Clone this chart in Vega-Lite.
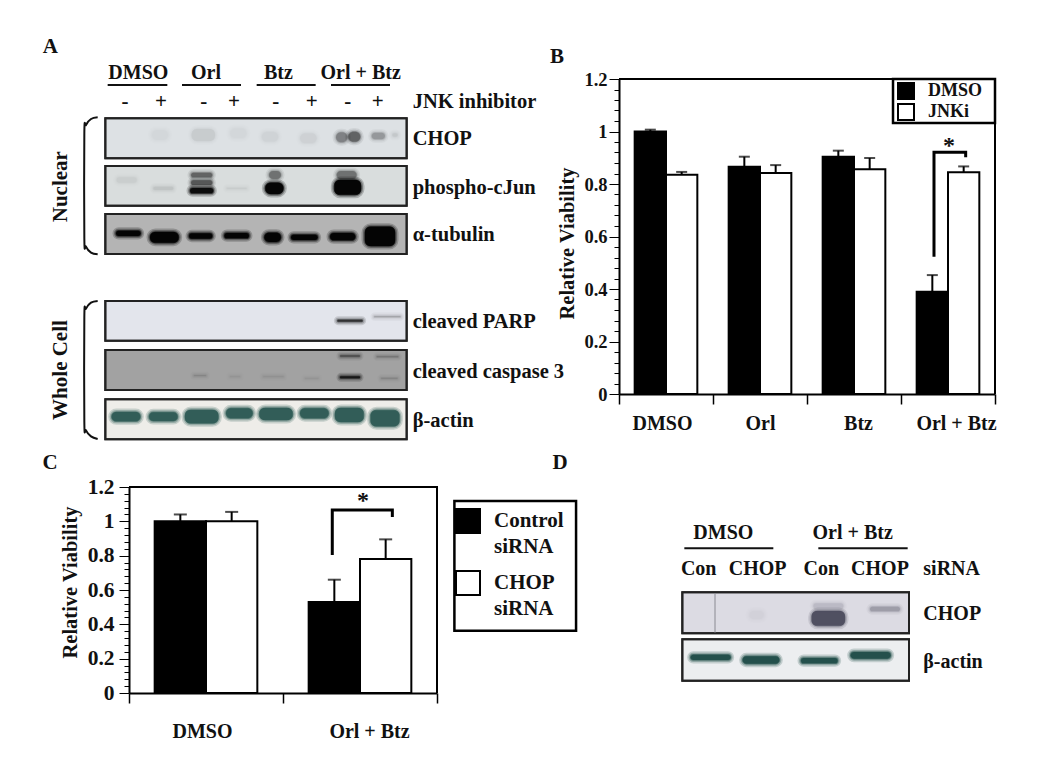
{
"$schema":"https://vega.github.io/schema/vega-lite/v6.json",
"width":1050,"height":771,"padding":0,"autosize":{"type":"none"},"background":"white",
"config":{"view":{"stroke":null},"text":{"font":"Liberation Serif","fontWeight":"bold","fill":"#111"},"style":{"guide-label":{"lineHeight":26}}},
"datasets":{
"b":[
{"group":"DMSO","bar":"DMSO / DMSO","series":"DMSO","value":1.0,"upper":1.007},
{"group":"DMSO","bar":"DMSO / JNKi","series":"JNKi","value":0.835,"upper":0.846},
{"group":"Orl","bar":"Orl / DMSO","series":"DMSO","value":0.866,"upper":0.904},
{"group":"Orl","bar":"Orl / JNKi","series":"JNKi","value":0.842,"upper":0.872},
{"group":"Btz","bar":"Btz / DMSO","series":"DMSO","value":0.904,"upper":0.927},
{"group":"Btz","bar":"Btz / JNKi","series":"JNKi","value":0.856,"upper":0.899},
{"group":"Orl + Btz","bar":"Orl + Btz / DMSO","series":"DMSO","value":0.39,"upper":0.453},
{"group":"Orl + Btz","bar":"Orl + Btz / JNKi","series":"JNKi","value":0.845,"upper":0.867}],
"c":[
{"group":"DMSO","bar":"DMSO / Control","series":"Control siRNA","value":1.0,"upper":1.04},
{"group":"DMSO","bar":"DMSO / CHOP","series":"CHOP siRNA","value":1.0,"upper":1.055},
{"group":"Orl + Btz","bar":"Orl + Btz / Control","series":"Control siRNA","value":0.53,"upper":0.66},
{"group":"Orl + Btz","bar":"Orl + Btz / CHOP","series":"CHOP siRNA","value":0.78,"upper":0.895}],
"frameA":[
{"blot":"CHOP","a":226,"b":1130,"c":265,"d":385},
{"blot":"phospho-cJun","a":226,"b":1130,"c":408,"d":527},
{"blot":"alpha-tubulin","a":226,"b":1130,"c":552,"d":672},
{"blot":"cleaved PARP","a":226,"b":1130,"c":813,"d":932},
{"blot":"cleaved caspase 3","a":226,"b":1130,"c":960,"d":1080},
{"blot":"beta-actin","a":226,"b":1130,"c":1108,"d":1228}],
"bandA":[
{"tone":"ink","a":365,"b":415,"c":300,"d":330,"v":0.015},
{"tone":"ink","a":485,"b":555,"c":297,"d":333,"v":0.04},
{"tone":"ink","a":600,"b":650,"c":295,"d":325,"v":0.015},
{"tone":"ink","a":695,"b":745,"c":305,"d":335,"v":0.02},
{"tone":"ink","a":810,"b":860,"c":310,"d":340,"v":0.025},
{"tone":"ink","a":918,"b":952,"c":307,"d":337,"v":0.25},
{"tone":"ink","a":955,"b":991,"c":305,"d":335,"v":0.36},
{"tone":"ink","a":1025,"b":1065,"c":308,"d":328,"v":0.18},
{"tone":"ink","a":1087,"b":1103,"c":310,"d":320,"v":0.05},
{"tone":"ink","a":260,"b":320,"c":442,"d":458,"v":0.025},
{"tone":"ink","a":370,"b":430,"c":470,"d":480,"v":0.05},
{"tone":"ink","a":483,"b":547,"c":428,"d":442,"v":0.35},
{"tone":"ink","a":483,"b":547,"c":451,"d":465,"v":0.4},
{"tone":"ink","a":480,"b":550,"c":474,"d":490,"v":0.9},
{"tone":"ink","a":590,"b":650,"c":473,"d":477,"v":0.03},
{"tone":"ink","a":717,"b":753,"c":423,"d":447,"v":0.3},
{"tone":"ink","a":706,"b":760,"c":458,"d":492,"v":1},
{"tone":"ink","a":920,"b":980,"c":423,"d":447,"v":0.3},
{"tone":"ink","a":913,"b":993,"c":450,"d":494,"v":1},
{"tone":"ink","a":258,"b":332,"c":602,"d":618,"v":1},
{"tone":"ink","a":360,"b":446,"c":606,"d":638,"v":1},
{"tone":"ink","a":477,"b":547,"c":610,"d":626,"v":1},
{"tone":"ink","a":583,"b":657,"c":609,"d":625,"v":1},
{"tone":"ink","a":703,"b":753,"c":608,"d":636,"v":1},
{"tone":"ink","a":783,"b":863,"c":614,"d":630,"v":1},
{"tone":"ink","a":900,"b":976,"c":609,"d":631,"v":1},
{"tone":"ink","a":1005,"b":1095,"c":590,"d":648,"v":1},
{"tone":"ink","a":922,"b":998,"c":869,"d":875,"v":0.6},
{"tone":"ink","a":1032,"b":1112,"c":858,"d":862,"v":0.15},
{"tone":"ink","a":930,"b":990,"c":975,"d":981,"v":0.3},
{"tone":"ink","a":1040,"b":1105,"c":978,"d":982,"v":0.14},
{"tone":"ink","a":930,"b":990,"c":1039,"d":1045,"v":0.7},
{"tone":"ink","a":1053,"b":1103,"c":1043,"d":1047,"v":0.09},
{"tone":"ink","a":492,"b":528,"c":1036,"d":1038,"v":0.1},
{"tone":"ink","a":600,"b":630,"c":1039,"d":1041,"v":0.04},
{"tone":"ink","a":700,"b":760,"c":1039,"d":1041,"v":0.05},
{"tone":"ink","a":825,"b":865,"c":1044,"d":1046,"v":0.04},
{"tone":"teal","a":245,"b":331,"c":1146,"d":1174,"v":1},
{"tone":"teal","a":357,"b":443,"c":1147,"d":1173,"v":1},
{"tone":"teal","a":465,"b":565,"c":1140,"d":1180,"v":1},
{"tone":"teal","a":588,"b":668,"c":1135,"d":1165,"v":1},
{"tone":"teal","a":688,"b":788,"c":1134,"d":1170,"v":1},
{"tone":"teal","a":810,"b":896,"c":1135,"d":1165,"v":1},
{"tone":"teal","a":915,"b":1001,"c":1134,"d":1176,"v":1},
{"tone":"teal","a":1022,"b":1108,"c":1141,"d":1189,"v":1}],
"frameD":[
{"blot":"CHOP","a":127,"b":807,"c":427,"d":550},
{"blot":"beta-actin","a":127,"b":807,"c":568,"d":692}],
"bandD":[
{"tone":"ink","a":515,"b":615,"c":483,"d":527,"v":0.5},
{"tone":"ink","a":520,"b":610,"c":460,"d":476,"v":0.08},
{"tone":"ink","a":690,"b":780,"c":470,"d":484,"v":0.17},
{"tone":"ink","a":328,"b":372,"c":482,"d":508,"v":0.012},
{"tone":"teal","a":152,"b":272,"c":614,"d":630,"v":1},
{"tone":"teal","a":308,"b":418,"c":619,"d":641,"v":1},
{"tone":"teal","a":483,"b":593,"c":624,"d":640,"v":1},
{"tone":"teal","a":632,"b":752,"c":606,"d":626,"v":1}]
},
"resolve":{"scale":{"x":"independent","y":"independent","color":"independent","stroke":"independent","opacity":"independent"},"axis":{"x":"independent","y":"independent"},"legend":{"color":"independent"}},
"layer":[
{"data":{"name":"frameA"},
 "mark":{"type":"rect","stroke":"#222","strokeWidth":2},
 "encoding":{"x":{"field":"a","type":"quantitative","scale":{"domain":[0,1560],"range":[30,550]},"axis":null},"x2":{"field":"b"},
 "y":{"field":"c","type":"quantitative","scale":{"domain":[0,1260],"range":[30,450]},"axis":null},"y2":{"field":"d"},
 "color":{"field":"blot","type":"nominal","legend":null,"scale":{"domain":["CHOP","phospho-cJun","alpha-tubulin","cleaved PARP","cleaved caspase 3","beta-actin"],"range":["#dde1e4","#d9dddd","#b4b4b4","#e3e5ec","#a2a2a2","#eeede9"]}}}},
{"data":{"name":"bandA"},
 "resolve":{"scale":{"opacity":"independent"}},
 "encoding":{"x":{"field":"a","type":"quantitative","scale":{"domain":[0,1560],"range":[30,550]},"axis":null},"x2":{"field":"b"},
 "y":{"field":"c","type":"quantitative","scale":{"domain":[0,1260],"range":[30,450]},"axis":null},"y2":{"field":"d"},
 "color":{"field":"tone","type":"nominal","legend":null,"scale":{"domain":["ink","teal"],"range":["#000000","#2d5a54"]}},
 "stroke":{"field":"tone","type":"nominal","legend":null,"scale":{"domain":["ink","teal"],"range":["#000000","#2d5a54"]}}},
 "layer":[
 {"mark":{"type":"rect","strokeWidth":7,"cornerRadius":6,"strokeJoin":"round"},"encoding":{"opacity":{"field":"v","type":"quantitative","legend":null,"scale":{"domain":[0,1],"range":[0,0.2]}}}},
 {"mark":{"type":"rect","strokeWidth":4,"cornerRadius":6,"strokeJoin":"round"},"encoding":{"opacity":{"field":"v","type":"quantitative","legend":null,"scale":{"domain":[0,1],"range":[0,0.3]}}}},
 {"mark":{"type":"rect","strokeWidth":1.5,"cornerRadius":6,"strokeJoin":"round"},"encoding":{"opacity":{"field":"v","type":"quantitative","legend":null,"scale":{"domain":[0,1],"range":[0,0.55]}}}},
 {"mark":{"type":"rect","strokeWidth":0,"cornerRadius":5},"encoding":{"opacity":{"field":"v","type":"quantitative","legend":null,"scale":{"domain":[0,1],"range":[0,0.9]}}}}
 ]},
{"data":{"name":"frameA"},
 "mark":{"type":"rect","fillOpacity":0,"stroke":"#222","strokeWidth":2},
 "encoding":{"x":{"field":"a","type":"quantitative","scale":{"domain":[0,1560],"range":[30,550]},"axis":null},"x2":{"field":"b"},
 "y":{"field":"c","type":"quantitative","scale":{"domain":[0,1260],"range":[30,450]},"axis":null},"y2":{"field":"d"}}},
{"data":{"values":[
 {"a":233,"b":412,"c":165},{"a":456,"b":633,"c":165},{"a":680,"b":857,"c":165},{"a":903,"b":1080,"c":165}]},
 "mark":{"type":"rule","color":"#111","strokeWidth":2},
 "encoding":{"x":{"field":"a","type":"quantitative","scale":{"domain":[0,1560],"range":[30,550]},"axis":null},"x2":{"field":"b"},
 "y":{"field":"c","type":"quantitative","scale":{"domain":[0,1260],"range":[30,450]},"axis":null}}},
{"data":{"values":[
 {"brace":"Nuclear","o":1,"a":203,"c":262},{"brace":"Nuclear","o":2,"a":183,"c":267},{"brace":"Nuclear","o":3,"a":168,"c":285},{"brace":"Nuclear","o":4,"a":163,"c":310},{"brace":"Nuclear","o":5,"a":163,"c":625},{"brace":"Nuclear","o":6,"a":168,"c":650},{"brace":"Nuclear","o":7,"a":183,"c":668},{"brace":"Nuclear","o":8,"a":203,"c":673},
 {"brace":"Whole Cell","o":1,"a":203,"c":813},{"brace":"Whole Cell","o":2,"a":183,"c":818},{"brace":"Whole Cell","o":3,"a":168,"c":836},{"brace":"Whole Cell","o":4,"a":163,"c":861},{"brace":"Whole Cell","o":5,"a":163,"c":1176},{"brace":"Whole Cell","o":6,"a":168,"c":1201},{"brace":"Whole Cell","o":7,"a":183,"c":1219},{"brace":"Whole Cell","o":8,"a":203,"c":1227}]},
 "mark":{"type":"line","color":"#111","strokeWidth":2,"interpolate":"cardinal"},
 "encoding":{"x":{"field":"a","type":"quantitative","scale":{"domain":[0,1560],"range":[30,550]},"axis":null},
 "y":{"field":"c","type":"quantitative","scale":{"domain":[0,1260],"range":[30,450]},"axis":null},
 "detail":{"field":"brace"},"order":{"field":"o","type":"quantitative"}}},
{"data":{"values":[
 {"t":"A","a":61,"c":52},{"t":"B","a":1581,"c":81},{"t":"C","a":60,"c":1299},{"t":"D","a":1590,"c":1299}]},
 "mark":{"type":"text","align":"center","baseline":"middle","fontSize":21},
 "encoding":{"x":{"field":"a","type":"quantitative","scale":{"domain":[0,1560],"range":[30,550]},"axis":null},
 "y":{"field":"c","type":"quantitative","scale":{"domain":[0,1260],"range":[30,450]},"axis":null},
 "text":{"field":"t"}}},
{"data":{"values":[
 {"t":"DMSO","a":325,"c":130},{"t":"Orl","a":528,"c":130},{"t":"Btz","a":745,"c":130},{"t":"Orl + Btz","a":992,"c":130}]},
 "mark":{"type":"text","align":"center","baseline":"middle","fontSize":20},
 "encoding":{"x":{"field":"a","type":"quantitative","scale":{"domain":[0,1560],"range":[30,550]},"axis":null},
 "y":{"field":"c","type":"quantitative","scale":{"domain":[0,1260],"range":[30,450]},"axis":null},
 "text":{"field":"t"}}},
{"data":{"values":[
 {"t":"-","a":285,"c":215},{"t":"+","a":393,"c":215},{"t":"-","a":521,"c":215},{"t":"+","a":612,"c":215},{"t":"-","a":737,"c":215},{"t":"+","a":845,"c":215},{"t":"-","a":953,"c":215},{"t":"+","a":1043,"c":215}]},
 "mark":{"type":"text","align":"center","baseline":"middle","fontSize":21},
 "encoding":{"x":{"field":"a","type":"quantitative","scale":{"domain":[0,1560],"range":[30,550]},"axis":null},
 "y":{"field":"c","type":"quantitative","scale":{"domain":[0,1260],"range":[30,450]},"axis":null},
 "text":{"field":"t"}}},
{"data":{"values":[
 {"t":"JNK inhibitor","c":215},{"t":"CHOP","c":327},{"t":"phospho-cJun","c":473},{"t":"α-tubulin","c":615},{"t":"cleaved PARP","c":877},{"t":"cleaved caspase 3","c":1025},{"t":"β-actin","c":1173}]},
 "mark":{"type":"text","align":"left","baseline":"middle","fontSize":20.5},
 "encoding":{"x":{"datum":1148,"type":"quantitative","scale":{"domain":[0,1560],"range":[30,550]},"axis":null},
 "y":{"field":"c","type":"quantitative","scale":{"domain":[0,1260],"range":[30,450]},"axis":null},
 "text":{"field":"t"}}},
{"data":{"values":[{"t":"Nuclear","c":470},{"t":"Whole Cell","c":1020}]},
 "mark":{"type":"text","align":"center","baseline":"middle","fontSize":21,"angle":270},
 "encoding":{"x":{"datum":92,"type":"quantitative","scale":{"domain":[0,1560],"range":[30,550]},"axis":null},
 "y":{"field":"c","type":"quantitative","scale":{"domain":[0,1260],"range":[30,450]},"axis":null},
 "text":{"field":"t"}}},

{"data":{"name":"b"},
 "mark":{"type":"rule","opacity":0},
 "encoding":{
  "x":{"field":"group","type":"nominal","sort":["DMSO","Orl","Btz","Orl + Btz"],"scale":{"domain":["DMSO","Orl","Btz","Orl + Btz"],"range":[619,995],"paddingInner":0,"paddingOuter":0},
   "axis":{"orient":"bottom","offset":-377,"title":null,"tickBand":"extent","labelAngle":0,"domainColor":"#000","domainWidth":2,"tickColor":"#000","tickWidth":1.5,"tickSize":10,"labelPadding":9,"labelFont":"Liberation Serif","labelFontWeight":"bold","labelFontSize":20,"labelColor":"#111",
   "labelOffset":{"condition":[{"test":"datum.value==='DMSO'","value":-4},{"test":"datum.value==='Btz'","value":4},{"test":"datum.value==='Orl + Btz'","value":8}],"value":0}}}}},
{"data":{"name":"b"},
 "encoding":{
  "x":{"field":"bar","type":"nominal","axis":null,"scale":{"domain":["DMSO / DMSO","DMSO / JNKi","gap 1","Orl / DMSO","Orl / JNKi","gap 2","Btz / DMSO","Btz / JNKi","gap 3","Orl + Btz / DMSO","Orl + Btz / JNKi"],"range":[619,995],"paddingInner":0,"paddingOuter":0.5}},
  "y":{"field":"value","type":"quantitative","scale":{"domain":[0,1.2],"range":[394,79],"nice":false},
   "axis":{"orient":"left","offset":-619,"title":"Relative Viability","values":[0,0.04,0.08,0.12,0.16,0.2,0.24,0.28,0.32,0.36,0.4,0.44,0.48,0.52,0.56,0.6,0.64,0.68,0.72,0.76,0.8,0.84,0.88,0.92,0.96,1,1.04,1.08,1.12,1.16,1.2],
   "labelExpr":"abs(datum.value*5-round(datum.value*5))<0.001 ? format(datum.value,'~g') : ''","labelOverlap":false,"labelFlush":false,"grid":false,
   "tickSize":{"condition":{"test":"abs(datum.value*5-round(datum.value*5))<0.001","value":10},"value":5},
   "domainColor":"#000","domainWidth":2,"tickColor":"#000","tickWidth":1,"labelPadding":2,"labelFont":"Liberation Serif","labelFontWeight":"bold","labelFontSize":18.5,"labelColor":"#111",
   "titleFont":"Liberation Serif","titleFontWeight":"bold","titleFontSize":20.5,"titleColor":"#111","titleX":-42,"titleY":243}}},
 "layer":[
  {"mark":{"type":"rule","color":"#000","strokeWidth":2},"encoding":{"y2":{"field":"upper"}}},
  {"mark":{"type":"tick","color":"#000","size":11,"thickness":2},"encoding":{"y":{"field":"upper","type":"quantitative"}}},
  {"mark":{"type":"bar","stroke":"#000","strokeWidth":2},"encoding":{"color":{"field":"series","type":"nominal","scale":{"domain":["DMSO","JNKi"],"range":["#000000","#ffffff"]},
   "legend":{"orient":"none","legendX":897,"legendY":82,"title":null,"symbolType":"square","symbolSize":256,"symbolStrokeColor":"#000","symbolStrokeWidth":2,"symbolOpacity":1,"labelFont":"Liberation Serif","labelFontWeight":"bold","labelFontSize":18,"labelColor":"#111","labelOffset":13,"rowPadding":-3,"padding":0}}}}
 ]},
{"data":{"values":[{"a":0,"y":1.2,"o":1},{"a":4,"y":1.2,"o":2},{"a":4,"y":0,"o":3}]},
 "mark":{"type":"line","color":"#000","strokeWidth":2},
 "encoding":{"x":{"field":"a","type":"quantitative","scale":{"domain":[0,4],"range":[619,995]},"axis":null},"y":{"field":"y","type":"quantitative","scale":{"domain":[0,1.2],"range":[394,79]},"axis":null},"order":{"field":"o","type":"quantitative"}}},
{"data":{"values":[{"a":3.351,"y":0.523,"o":1},{"a":3.351,"y":0.921,"o":2},{"a":3.688,"y":0.921,"o":3},{"a":3.688,"y":0.902,"o":4}]},
 "mark":{"type":"line","color":"#000","strokeWidth":3},
 "encoding":{"x":{"field":"a","type":"quantitative","scale":{"domain":[0,4],"range":[619,995]},"axis":null},"y":{"field":"y","type":"quantitative","scale":{"domain":[0,1.2],"range":[394,79]},"axis":null},"order":{"field":"o","type":"quantitative"}}},
{"data":{"values":[{"a":2.915,"b":4,"y":1.2,"y2":1.032}]},
 "mark":{"type":"rect","fillOpacity":0,"stroke":"#000","strokeWidth":2.5},
 "encoding":{"x":{"field":"a","type":"quantitative","scale":{"domain":[0,4],"range":[619,995]},"axis":null},"x2":{"field":"b"},"y":{"field":"y","type":"quantitative","scale":{"domain":[0,1.2],"range":[394,79]},"axis":null},"y2":{"field":"y2"}}},
{"data":{"values":[{"t":"*","a":3.511,"y":0.945}]},
 "mark":{"type":"text","align":"center","baseline":"middle","fontSize":24},
 "encoding":{"x":{"field":"a","type":"quantitative","scale":{"domain":[0,4],"range":[619,995]},"axis":null},"y":{"field":"y","type":"quantitative","scale":{"domain":[0,1.2],"range":[394,79]},"axis":null},"text":{"field":"t"}}},

{"data":{"name":"c"},
 "mark":{"type":"rule","opacity":0},
 "encoding":{
  "x":{"field":"group","type":"nominal","sort":["DMSO","Orl + Btz"],"scale":{"domain":["DMSO","Orl + Btz"],"range":[129,437],"paddingInner":0,"paddingOuter":0},
   "axis":{"orient":"bottom","offset":-78,"title":null,"tickBand":"extent","labelAngle":0,"domainColor":"#000","domainWidth":2,"tickColor":"#000","tickWidth":1.5,"tickSize":10,"labelPadding":18,"labelFont":"Liberation Serif","labelFontWeight":"bold","labelFontSize":20,"labelColor":"#111",
   "labelOffset":{"condition":[{"test":"datum.value==='DMSO'","value":-4},{"test":"datum.value==='Orl + Btz'","value":9}],"value":0}}}}},
{"data":{"name":"c"},
 "encoding":{
  "x":{"field":"bar","type":"nominal","axis":null,"scale":{"domain":["DMSO / Control","DMSO / CHOP","gap","Orl + Btz / Control","Orl + Btz / CHOP"],"range":[129,437],"paddingInner":0,"paddingOuter":0.5}},
  "y":{"field":"value","type":"quantitative","scale":{"domain":[0,1.2],"range":[693,487],"nice":false},
   "axis":{"orient":"left","offset":-129,"title":"Relative Viability","values":[0,0.04,0.08,0.12,0.16,0.2,0.24,0.28,0.32,0.36,0.4,0.44,0.48,0.52,0.56,0.6,0.64,0.68,0.72,0.76,0.8,0.84,0.88,0.92,0.96,1,1.04,1.08,1.12,1.16,1.2],
   "labelExpr":"abs(datum.value*5-round(datum.value*5))<0.001 ? format(datum.value,'~g') : ''","labelOverlap":false,"labelFlush":false,"grid":false,
   "tickSize":{"condition":{"test":"abs(datum.value*5-round(datum.value*5))<0.001","value":10},"value":5},
   "domainColor":"#000","domainWidth":2,"tickColor":"#000","tickWidth":1,"labelPadding":5,"labelFont":"Liberation Serif","labelFontWeight":"bold","labelFontSize":21.5,"labelColor":"#111",
   "titleFont":"Liberation Serif","titleFontWeight":"bold","titleFontSize":20.5,"titleColor":"#111","titleX":-49,"titleY":582}}},
 "layer":[
  {"mark":{"type":"rule","color":"#000","strokeWidth":2},"encoding":{"y2":{"field":"upper"}}},
  {"mark":{"type":"tick","color":"#000","size":13,"thickness":2},"encoding":{"y":{"field":"upper","type":"quantitative"}}},
  {"mark":{"type":"bar","stroke":"#000","strokeWidth":2},"encoding":{"color":{"field":"series","type":"nominal","scale":{"domain":["Control siRNA","CHOP siRNA"],"range":["#000000","#ffffff"]},
   "legend":{"orient":"none","legendX":455,"legendY":508,"title":null,"symbolType":"square","symbolSize":576,"symbolStrokeColor":"#000","symbolStrokeWidth":2,"symbolOpacity":1,"labelFont":"Liberation Serif","labelFontWeight":"bold","labelFontSize":21,"labelColor":"#111","labelOffset":13,"rowPadding":10,"padding":0,
   "labelExpr":"datum.value==='Control siRNA' ? ['Control','siRNA'] : ['CHOP','siRNA']"}}}}
 ]},
{"data":{"values":[{"a":0,"y":1.2,"o":1},{"a":2,"y":1.2,"o":2},{"a":2,"y":0,"o":3}]},
 "mark":{"type":"line","color":"#000","strokeWidth":2},
 "encoding":{"x":{"field":"a","type":"quantitative","scale":{"domain":[0,2],"range":[129,437]},"axis":null},"y":{"field":"y","type":"quantitative","scale":{"domain":[0,1.2],"range":[693,487]},"axis":null},"order":{"field":"o","type":"quantitative"}}},
{"data":{"values":[{"a":1.32,"y":0.804,"o":1},{"a":1.32,"y":1.066,"o":2},{"a":1.71,"y":1.066,"o":3},{"a":1.71,"y":1.025,"o":4}]},
 "mark":{"type":"line","color":"#000","strokeWidth":3},
 "encoding":{"x":{"field":"a","type":"quantitative","scale":{"domain":[0,2],"range":[129,437]},"axis":null},"y":{"field":"y","type":"quantitative","scale":{"domain":[0,1.2],"range":[693,487]},"axis":null},"order":{"field":"o","type":"quantitative"}}},
{"data":{"values":[{"a":2.113,"b":2.903,"y":1.118,"y2":0.363}]},
 "mark":{"type":"rect","fillOpacity":0,"stroke":"#000","strokeWidth":2.5},
 "encoding":{"x":{"field":"a","type":"quantitative","scale":{"domain":[0,2],"range":[129,437]},"axis":null},"x2":{"field":"b"},"y":{"field":"y","type":"quantitative","scale":{"domain":[0,1.2],"range":[693,487]},"axis":null},"y2":{"field":"y2"}}},
{"data":{"values":[{"t":"*","a":1.52,"y":1.12}]},
 "mark":{"type":"text","align":"center","baseline":"middle","fontSize":24},
 "encoding":{"x":{"field":"a","type":"quantitative","scale":{"domain":[0,2],"range":[129,437]},"axis":null},"y":{"field":"y","type":"quantitative","scale":{"domain":[0,1.2],"range":[693,487]},"axis":null},"text":{"field":"t"}}},

{"data":{"name":"frameD"},
 "mark":{"type":"rect","stroke":"#222","strokeWidth":2},
 "encoding":{"x":{"field":"a","type":"quantitative","scale":{"domain":[0,1110],"range":[640,1010]},"axis":null},"x2":{"field":"b"},
 "y":{"field":"c","type":"quantitative","scale":{"domain":[0,750],"range":[450,700]},"axis":null},"y2":{"field":"d"},
 "color":{"field":"blot","type":"nominal","legend":null,"scale":{"domain":["CHOP","beta-actin"],"range":["#dcdbe3","#eceef0"]}}}},
{"data":{"name":"bandD"},
 "resolve":{"scale":{"opacity":"independent"}},
 "encoding":{"x":{"field":"a","type":"quantitative","scale":{"domain":[0,1110],"range":[640,1010]},"axis":null},"x2":{"field":"b"},
 "y":{"field":"c","type":"quantitative","scale":{"domain":[0,750],"range":[450,700]},"axis":null},"y2":{"field":"d"},
 "color":{"field":"tone","type":"nominal","legend":null,"scale":{"domain":["ink","teal"],"range":["#15152a","#1f4d48"]}},
 "stroke":{"field":"tone","type":"nominal","legend":null,"scale":{"domain":["ink","teal"],"range":["#15152a","#1f4d48"]}}},
 "layer":[
 {"mark":{"type":"rect","strokeWidth":7,"cornerRadius":6,"strokeJoin":"round"},"encoding":{"opacity":{"field":"v","type":"quantitative","legend":null,"scale":{"domain":[0,1],"range":[0,0.2]}}}},
 {"mark":{"type":"rect","strokeWidth":4,"cornerRadius":6,"strokeJoin":"round"},"encoding":{"opacity":{"field":"v","type":"quantitative","legend":null,"scale":{"domain":[0,1],"range":[0,0.3]}}}},
 {"mark":{"type":"rect","strokeWidth":1.5,"cornerRadius":6,"strokeJoin":"round"},"encoding":{"opacity":{"field":"v","type":"quantitative","legend":null,"scale":{"domain":[0,1],"range":[0,0.55]}}}},
 {"mark":{"type":"rect","strokeWidth":0,"cornerRadius":5},"encoding":{"opacity":{"field":"v","type":"quantitative","legend":null,"scale":{"domain":[0,1],"range":[0,0.9]}}}}
 ]},
{"data":{"name":"frameD"},
 "mark":{"type":"rect","fillOpacity":0,"stroke":"#222","strokeWidth":2},
 "encoding":{"x":{"field":"a","type":"quantitative","scale":{"domain":[0,1110],"range":[640,1010]},"axis":null},"x2":{"field":"b"},
 "y":{"field":"c","type":"quantitative","scale":{"domain":[0,750],"range":[450,700]},"axis":null},"y2":{"field":"d"}}},
{"data":{"values":[{"a":133,"b":400,"c":295},{"a":535,"b":803,"c":295}]},
 "mark":{"type":"rule","color":"#111","strokeWidth":2},
 "encoding":{"x":{"field":"a","type":"quantitative","scale":{"domain":[0,1110],"range":[640,1010]},"axis":null},"x2":{"field":"b"},
 "y":{"field":"c","type":"quantitative","scale":{"domain":[0,750],"range":[450,700]},"axis":null}}},
{"data":{"values":[{"a":225,"c":430,"d":548}]},
 "mark":{"type":"rule","color":"#8a8a92","strokeWidth":1},
 "encoding":{"x":{"field":"a","type":"quantitative","scale":{"domain":[0,1110],"range":[640,1010]},"axis":null},
 "y":{"field":"c","type":"quantitative","scale":{"domain":[0,750],"range":[450,700]},"axis":null},"y2":{"field":"d"}}},
{"data":{"values":[
 {"t":"DMSO","a":250,"c":248},{"t":"Orl + Btz","a":638,"c":248},{"t":"Con","a":176,"c":358},{"t":"CHOP","a":353,"c":358},{"t":"Con","a":544,"c":358},{"t":"CHOP","a":720,"c":358}]},
 "mark":{"type":"text","align":"center","baseline":"middle","fontSize":20},
 "encoding":{"x":{"field":"a","type":"quantitative","scale":{"domain":[0,1110],"range":[640,1010]},"axis":null},
 "y":{"field":"c","type":"quantitative","scale":{"domain":[0,750],"range":[450,700]},"axis":null},"text":{"field":"t"}}},
{"data":{"values":[{"t":"siRNA","c":358},{"t":"CHOP","c":492},{"t":"β-actin","c":635}]},
 "mark":{"type":"text","align":"left","baseline":"middle","fontSize":20},
 "encoding":{"x":{"datum":850,"type":"quantitative","scale":{"domain":[0,1110],"range":[640,1010]},"axis":null},
 "y":{"field":"c","type":"quantitative","scale":{"domain":[0,750],"range":[450,700]},"axis":null},"text":{"field":"t"}}}
]
}
